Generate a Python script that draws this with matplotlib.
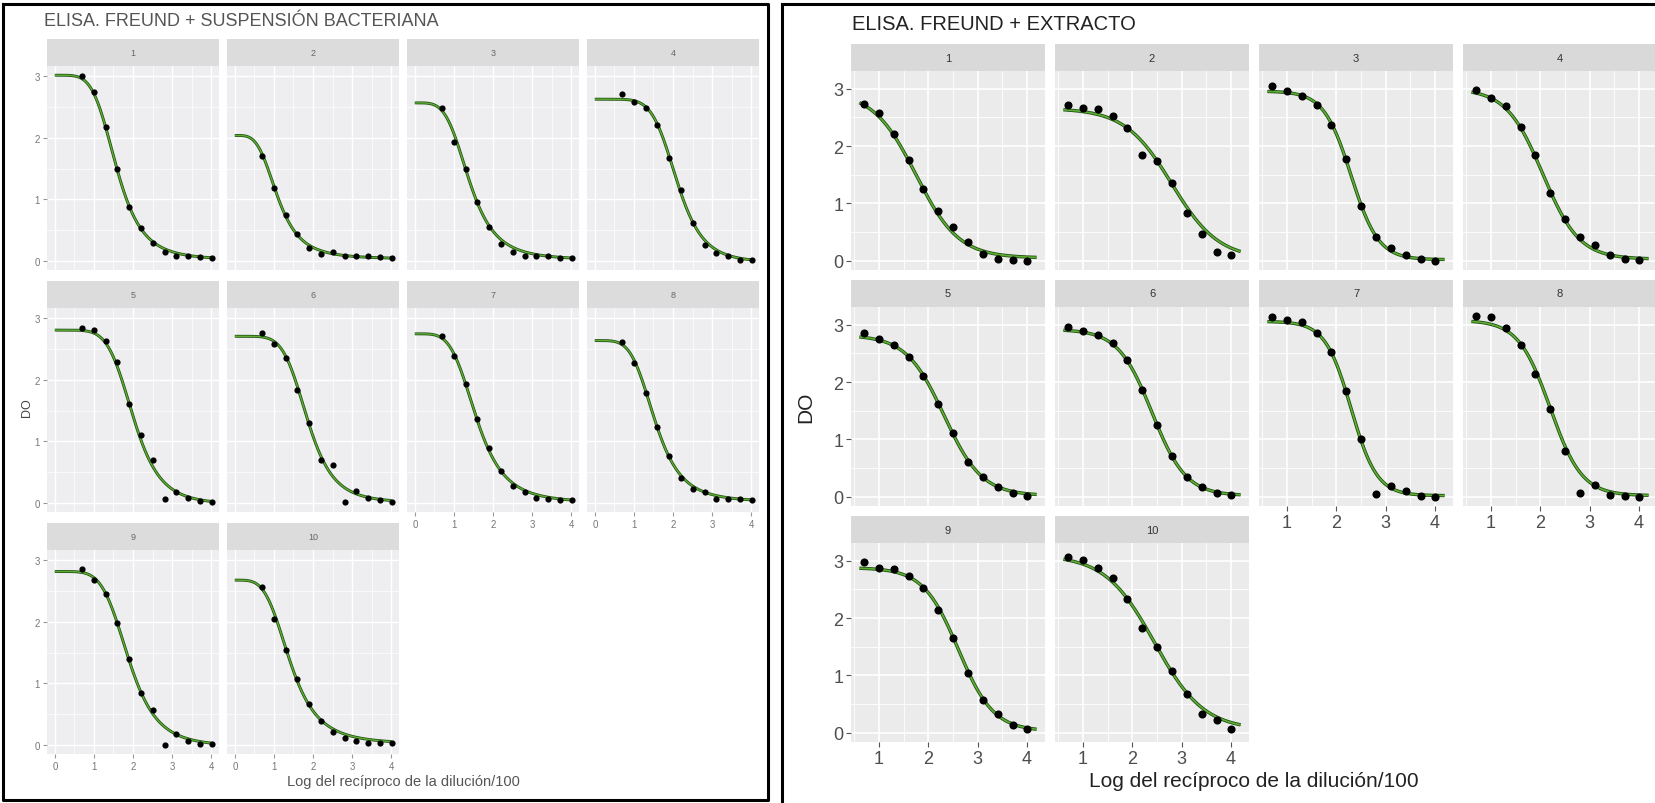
import numpy as np
import matplotlib
matplotlib.use("Agg")
import matplotlib.pyplot as plt
from matplotlib.lines import Line2D

plt.rcParams['font.family'] = ['Liberation Sans', 'DejaVu Sans']

# log10 of reciprocal dilution / 100, same for every serum
x_dil = [0.70, 1.00, 1.30, 1.60, 1.90, 2.20, 2.51, 2.81, 3.11, 3.41, 3.71, 4.01]
panel_names = ['1', '2', '3', '4', '5', '6', '7', '8', '9', '10']

# ELISA, Freund + bacterial suspension (OD per serum)
bact_do = [
    [3.01, 2.75, 2.18, 1.49, 0.88, 0.54, 0.29, 0.14, 0.08, 0.07, 0.06, 0.04],
    [1.71, 1.19, 0.74, 0.43, 0.21, 0.11, 0.15, 0.08, 0.07, 0.07, 0.06, 0.04],
    [2.49, 1.94, 1.49, 0.95, 0.55, 0.27, 0.14, 0.07, 0.07, 0.07, 0.04, 0.04],
    [2.72, 2.58, 2.49, 2.21, 1.68, 1.16, 0.61, 0.25, 0.12, 0.07, 0.02, 0.01],
    [2.85, 2.81, 2.64, 2.29, 1.60, 1.11, 0.69, 0.06, 0.18, 0.08, 0.03, 0.01],
    [2.77, 2.59, 2.35, 1.84, 1.30, 0.69, 0.61, 0.01, 0.19, 0.08, 0.04, 0.02],
    [2.72, 2.39, 1.93, 1.36, 0.89, 0.51, 0.28, 0.17, 0.07, 0.055, 0.045, 0.04],
    [2.61, 2.27, 1.79, 1.24, 0.76, 0.40, 0.23, 0.18, 0.06, 0.06, 0.06, 0.045],
    [2.86, 2.68, 2.46, 1.98, 1.40, 0.85, 0.57, 0.00, 0.17, 0.06, 0.02, 0.01],
    [2.56, 2.04, 1.55, 1.07, 0.66, 0.39, 0.20, 0.11, 0.06, 0.03, 0.03, 0.03],
]
# fitted log-logistic curves: top, bottom, midpoint, hill slope
bact_top = [3.02, 2.04, 2.57, 2.63, 2.81, 2.71, 2.75, 2.64, 2.82, 2.68]
bact_bottom = [0.015, 0.03, 0.015, -0.03, -0.03, 0.0, 0.0, 0.015, -0.03, 0.01]
bact_mid = [1.58, 1.10, 1.40, 2.10, 2.01, 1.86, 1.58, 1.545, 1.89, 1.42]
bact_hill = [4.8, 3.8, 4.2, 6.3, 5.8, 5.6, 4.4, 4.6, 5.2, 4.0]

# ELISA, Freund + extract
extr_do = [
    [2.74, 2.57, 2.21, 1.75, 1.26, 0.87, 0.59, 0.32, 0.12, 0.04, 0.01, 0.00],
    [2.72, 2.67, 2.65, 2.52, 2.31, 1.84, 1.74, 1.36, 0.84, 0.47, 0.15, 0.10],
    [3.05, 2.96, 2.87, 2.72, 2.36, 1.78, 0.96, 0.42, 0.22, 0.10, 0.04, 0.00],
    [2.97, 2.84, 2.70, 2.34, 1.85, 1.18, 0.73, 0.42, 0.28, 0.10, 0.04, 0.01],
    [2.85, 2.75, 2.65, 2.43, 2.11, 1.61, 1.12, 0.61, 0.35, 0.17, 0.06, 0.02],
    [2.96, 2.90, 2.83, 2.68, 2.39, 1.87, 1.26, 0.72, 0.35, 0.17, 0.06, 0.03],
    [3.13, 3.09, 3.04, 2.86, 2.52, 1.84, 1.00, 0.05, 0.19, 0.10, 0.02, 0.00],
    [3.15, 3.13, 2.94, 2.65, 2.14, 1.54, 0.80, 0.06, 0.20, 0.04, 0.01, 0.00],
    [2.97, 2.87, 2.85, 2.73, 2.52, 2.14, 1.65, 1.04, 0.57, 0.32, 0.13, 0.06],
    [3.07, 3.02, 2.88, 2.70, 2.34, 1.82, 1.50, 1.08, 0.68, 0.32, 0.22, 0.07],
]
# fitted logistic curves (in log dilution): top, bottom, midpoint, slope
extr_top = [2.95, 2.66, 2.96, 3.00, 2.82, 2.92, 3.06, 3.08, 2.88, 3.10]
extr_bottom = [0.05, 0.03, 0.02, 0.03, 0.02, 0.02, 0.02, 0.02, 0.03, 0.05]
extr_mid = [1.75, 2.80, 2.30, 2.05, 2.32, 2.40, 2.30, 2.20, 2.61, 2.45]
extr_slope = [2.3, 2.1, 3.6, 2.7, 2.6, 2.9, 3.8, 3.1, 2.8, 2.0]

W, H = 1656, 804


def box(x, y, w, h):
    # pixel box (top-left origin) -> figure fraction
    return [x / W, 1 - (y + h) / H, w / W, h / H]


def loglogistic(x, top, bottom, mid, hill):
    return bottom + (top - bottom) / (1 + (x / mid) ** hill)


def logistic(x, top, bottom, mid, slope):
    return bottom + (top - bottom) / (1 + np.exp(slope * (x - mid)))


def facet(fig, left, top, pw, ph, sh, dx, dy, do_lists, model, pars, xcurve, xlim, ylim,
          xticks, xminor, st):
    for i, name in enumerate(panel_names):
        r, c = divmod(i, 4)
        px = left + c * dx
        py = top + r * dy
        sax = fig.add_axes(box(px, py, pw, sh))
        sax.set_facecolor(st['strip'])
        sax.set_xticks([])
        sax.set_yticks([])
        for s in sax.spines.values():
            s.set_visible(False)
        sax.text(0.5, 0.5, name, ha='center', va='center', fontsize=st['strip_fs'],
                 color=st['strip_txt'], transform=sax.transAxes)

        ax = fig.add_axes(box(px, py + sh, pw, ph))
        ax.set_facecolor(st['bg'])
        for s in ax.spines.values():
            s.set_visible(False)
        ax.set_xlim(xlim)
        ax.set_ylim(ylim)
        ax.set_xticks(xticks)
        ax.set_xticks(xminor, minor=True)
        ax.set_yticks([0, 1, 2, 3])
        ax.set_yticks([0.5, 1.5, 2.5], minor=True)
        ax.grid(True, which='major', color='white', lw=st['grid_major'])
        ax.grid(True, which='minor', color='white', lw=st['grid_minor'])
        ax.set_axisbelow(True)
        ax.tick_params(which='minor', length=0)
        ax.tick_params(which='major', length=st['tick_len'], width=0.8, color=st['tick_col'],
                       labelsize=st['tick_fs'], labelcolor=st['tick_txt'], pad=2)

        xc = np.linspace(xcurve[0], xcurve[1], 300)
        yc = model(xc, pars[0][i], pars[1][i], pars[2][i], pars[3][i])
        ax.plot(xc, yc, color='#214d12', lw=st['lw_dark'], solid_capstyle='butt', zorder=2)
        ax.plot(xc, yc, color='#5caf34', lw=st['lw_light'], solid_capstyle='butt', zorder=3)
        ax.scatter(x_dil, do_lists[i], s=st['pt'], color='black', zorder=4, linewidths=0)

        if c != 0:
            ax.tick_params(axis='y', labelleft=False, length=0)
        # x axis shown on the bottom panel of each column
        if not (r == 2 or (r == 1 and c >= 2)):
            ax.tick_params(axis='x', labelbottom=False, length=0)


fig = plt.figure(figsize=(W / 100, H / 100), dpi=100)

# ---- left chart: Freund + bacterial suspension
left_style = dict(strip='#dcdcdc', strip_txt='#666666', strip_fs=6.5, bg='#eeeef1',
                  grid_major=1.0, grid_minor=0.5, tick_len=3, tick_col='#999999',
                  tick_fs=7, tick_txt='#777777', lw_dark=2.1, lw_light=1.0, pt=20)
facet(fig, 47, 40, 172, 204, 27, 180, 242, bact_do, loglogistic,
      [bact_top, bact_bottom, bact_mid, bact_hill], (0, 4.01), (-0.2, 4.2), (-0.15, 3.17),
      [0, 1, 2, 3, 4], [0.5, 1.5, 2.5, 3.5], left_style)
fig.text(44 / W, 1 - 21 / H, 'ELISA. FREUND + SUSPENSIÓN BACTERIANA', fontsize=13,
         color='#555555', ha='left', va='center')
fig.text(27 / W, 1 - 408 / H, 'DO', fontsize=9, color='#444444', rotation=90,
         ha='center', va='center')
fig.text(403 / W, 1 - 782 / H, 'Log del recíproco de la dilución/100', fontsize=10.5,
         color='#555555', ha='center', va='center')

# ---- right chart: Freund + extract
right_style = dict(strip='#d9d9d9', strip_txt='#333333', strip_fs=8, bg='#ebebeb',
                   grid_major=1.2, grid_minor=0.6, tick_len=3.5, tick_col='#555555',
                   tick_fs=13, tick_txt='#4d4d4d', lw_dark=2.4, lw_light=1.2, pt=34)
facet(fig, 851, 45, 194, 199, 27, 204, 236, extr_do, logistic,
      [extr_top, extr_bottom, extr_mid, extr_slope], (0.6, 4.2), (0.43, 4.37), (-0.16, 3.31),
      [1, 2, 3, 4], [0.5, 1.5, 2.5, 3.5], right_style)
fig.text(852 / W, 1 - 25 / H, 'ELISA. FREUND + EXTRACTO', fontsize=14.5,
         color='#222222', ha='left', va='center')
fig.text(806 / W, 1 - 407 / H, 'DO', fontsize=15, color='#222222', rotation=90,
         ha='center', va='center')
fig.text(1254 / W, 1 - 782 / H, 'Log del recíproco de la dilución/100', fontsize=15,
         color='#222222', ha='center', va='center')


# black frames around the two pictures
def fline(xs, ys, lw=2.2):
    fig.add_artist(Line2D([x / W for x in xs], [1 - y / H for y in ys],
                          color='black', lw=lw, transform=fig.transFigure))


fline([3, 768, 768, 3, 3], [5, 5, 801, 801, 5])
fline([782, 782], [804, 5])
fline([782, 1656], [5, 5])

fig.savefig('out.png', dpi=100, facecolor='white')
